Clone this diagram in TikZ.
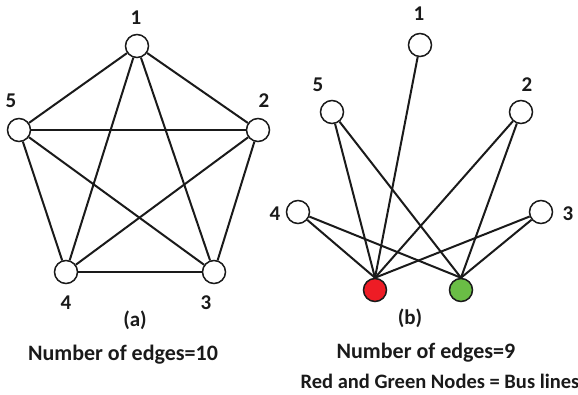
\documentclass[tikz,border=0pt]{standalone}
\usepackage{fontspec}
\setmainfont{Carlito}
\usepackage{xcolor}
\definecolor{graphink}{HTML}{1A1A1A}
\definecolor{busred}{HTML}{EE1C25}
\definecolor{busgreen}{HTML}{6ABD45}

\begin{document}
\begin{tikzpicture}[
  x=1pt,
  y=-1pt,
  every node/.style={font=\fontsize{21}{24}\selectfont\bfseries, text=graphink},
  caption/.style={font=\fontsize{22}{25}\selectfont\bfseries},
  vertex/.style={circle, draw=graphink, line width=1.5pt, fill=white, minimum size=23pt, inner sep=0pt},
  edge/.style={graphink, line width=2pt}
]
  \useasboundingbox (0,0) rectangle (578,395);

  % (a) complete graph
  \node[vertex] (a1) at (137,46) {};
  \node[vertex] (a2) at (258,130) {};
  \node[vertex] (a3) at (214,272) {};
  \node[vertex] (a4) at (66,272) {};
  \node[vertex] (a5) at (19,130) {};

  \foreach \i/\j in {1/2,1/3,1/4,1/5,2/3,2/4,2/5,3/4,3/5,4/5}
    \draw[edge] (a\i) -- (a\j);

  \node (la1) at (136,18) {1};
  \node (la2) at (264,101) {2};
  \node (la3) at (206,303) {3};
  \node (la4) at (66,303) {4};
  \node (la5) at (11,101) {5};

  \node (capa) at (135,320) {(a)};
  \node[caption] (numa) at (123,355) {Number of edges=10};

  % (b) bus lines
  \node[vertex] (b1) at (420,45) {};
  \node[vertex] (b2) at (521,112) {};
  \node[vertex] (b3) at (541,212) {};
  \node[vertex] (b4) at (298,212) {};
  \node[vertex] (b5) at (332,112) {};
  \node[vertex, fill=busred] (red) at (375,290) {};
  \node[vertex, fill=busgreen] (green) at (461,290) {};

  \draw[edge] (b1) -- (red.north);
  \foreach \i in {2,3,4,5} {
    \draw[edge] (b\i) -- (red.north);
    \draw[edge] (b\i) -- (green.north);
  }

  \node (lb1) at (419,14) {1};
  \node (lb2) at (527,85) {2};
  \node (lb3) at (568,214) {3};
  \node (lb4) at (275,214) {4};
  \node (lb5) at (318,85) {5};

  \node (capb) at (410,318) {(b)};
  \node[caption] (numb) at (426,353) {Number of edges=9};
  \node[font=\fontsize{20.5}{23}\selectfont\bfseries] (busb) at (440,381) {Red and Green Nodes = Bus lines};
\end{tikzpicture}
\end{document}
